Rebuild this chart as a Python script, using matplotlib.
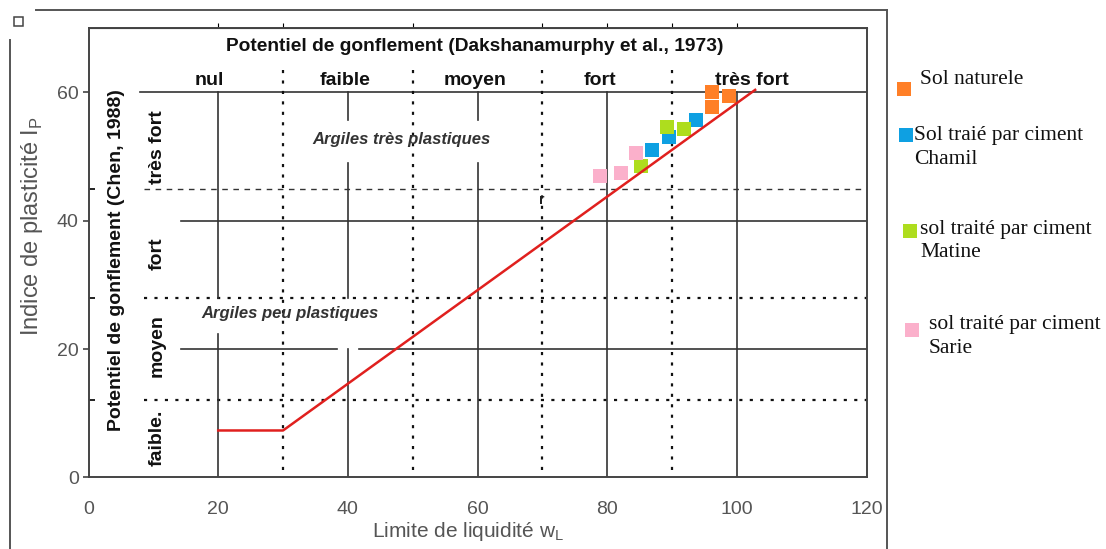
import matplotlib
matplotlib.use("Agg")
import matplotlib.pyplot as plt
from matplotlib.patches import Rectangle
from matplotlib.lines import Line2D

# ---------------- data ----------------
a_line_wl = [20, 30, 102.8]
a_line_ip = [7.3, 7.3, 60.4]

naturel_wl = [96.1, 96.1, 98.8]
naturel_ip = [60.1, 57.7, 59.4]
chamil_wl = [86.9, 89.5, 93.7]
chamil_ip = [51.1, 53.1, 55.75]
matine_wl = [85.2, 89.2, 91.8]
matine_ip = [48.5, 54.6, 54.3]
sarie_wl = [78.8, 82.1, 84.4]
sarie_ip = [46.9, 47.4, 50.6]

x_ticks = [0, 20, 40, 60, 80, 100, 120]
y_ticks = [0, 20, 40, 60]

col_labels = ["nul", "faible", "moyen", "fort", "très fort"]
col_label_x = [18.6, 39.6, 59.6, 78.8, 102.3]
row_labels = ["très fort", "fort", "moyen", "faible."]
row_label_y = [51.5, 34.8, 20.5, 6.1]

legend_labels = ["Sol naturele", "Sol traié par ciment\nChamil",
                 "sol traité par ciment\nMatine", "sol traité par ciment\nSarie"]
colors = ["#FF7F27", "#0EA0E2", "#AEDD1E", "#FBB0CB"]

# ---------------- figure ----------------
W, H = 1106, 549
fig = plt.figure(figsize=(W / 100, H / 100), dpi=100)
SANS = ["Liberation Sans", "DejaVu Sans"]
SERIF = ["Liberation Serif", "DejaVu Serif"]
plt.rcParams["font.family"] = SANS


def fx(x):
    return x / W


def fy(y):
    return 1 - y / H


ax = fig.add_axes([fx(88.5), fy(477.3), fx(866.7) - fx(88.5), fy(28.3) - fy(477.3)])
ax.set_xlim(0, 120)
ax.set_ylim(0, 70)
for s in ax.spines.values():
    s.set_color("#444444")
    s.set_linewidth(1.4)

ax.set_xticks(x_ticks)
ax.set_yticks(y_ticks)
ax.tick_params(axis="x", length=0, pad=17, labelsize=14, labelcolor="#555555")
ax.tick_params(axis="y", length=4, width=1.2, color="#444444", pad=3,
               labelsize=14, labelcolor="#555555")
ax.set_yticks([12, 28, 45], minor=True)
ax.tick_params(axis="y", which="minor", length=4, width=1.4, direction="in", color="#222222")
# top ticks
ax.secondary_xaxis("top").set_xticks([20, 30, 50, 70, 80, 90, 100], labels=[])

ax.set_xlabel("Limite de liquidité w$_\\mathregular{L}$", fontsize=15, color="#555555")
ax.xaxis.set_label_coords(0.488, -0.095)
ax.set_ylabel("Indice de plasticité I$_\\mathregular{P}$", fontsize=17, color="#555555")
ax.yaxis.set_label_coords(-0.056, 0.56)

solid = dict(color="#333333", lw=1.2, zorder=1)
dot = dict(color="#111111", lw=1.6, linestyle=(0, (1.4, 3.3)), zorder=1)

# horizontal solid lines
ax.plot([7.9, 120], [60, 60], **solid)
ax.plot([14.2, 120], [40, 40], **solid)
ax.plot([14.2, 38.3], [20, 20], **solid)
ax.plot([41.7, 120], [20, 20], **solid)
# horizontal dotted / dashed
ax.plot([8.5, 120], [28, 28], **dot)
ax.plot([8.5, 120], [12, 12], **dot)
ax.plot([8.5, 120], [45, 45], color="#333333", lw=1.0, linestyle=(0, (4, 4)), zorder=1)
# vertical solid lines
for x0, segs in [(20, [(0, 22.4), (28, 60)]),
                 (40, [(0, 20), (28, 49), (55.7, 60)]),
                 (60, [(0, 49), (55.7, 60)]),
                 (80, [(0, 60)]),
                 (100, [(0, 60)])]:
    for a, b in segs:
        ax.plot([x0, x0], [a, b], **solid)
# vertical dotted lines
for x0 in [30, 50, 70, 90]:
    ax.plot([x0, x0], [1.2, 63.5], **dot)

# texts inside
ax.text(59.6, 67.1, "Potentiel de gonflement (Dakshanamurphy et al., 1973)",
        ha="center", va="center", fontsize=13.8, fontweight="bold", color="#111111")
for lab, x in zip(col_labels, col_label_x):
    ax.text(x, 61.8, lab, ha="center", va="center", fontsize=14, fontweight="bold", color="#111111")
for lab, y in zip(row_labels, row_label_y):
    ax.text(10.6, y, lab, ha="center", va="center", rotation=90, fontsize=14,
            fontweight="bold", color="#111111")
ax.text(4.3, 33.9, "Potentiel de gonflement (Chen, 1988)", ha="center", va="center",
        rotation=90, fontsize=14, fontweight="bold", color="#111111")
ax.text(48.2, 52.6, "Argiles très plastiques", ha="center", va="center", fontsize=12,
        style="italic", fontweight="bold", color="#333333")
ax.text(31.1, 25.6, "Argiles peu plastiques", ha="center", va="center", fontsize=12,
        style="italic", fontweight="bold", color="#333333")
ax.text(69.9, 43.2, "r", ha="center", va="center", fontsize=10, fontweight="bold", color="#222222")

# A-line
ax.plot(a_line_wl, a_line_ip, color="#E0201E", lw=1.8, zorder=5)

# points
for wl, ip, c in [(naturel_wl, naturel_ip, colors[0]), (chamil_wl, chamil_ip, colors[1]),
                  (matine_wl, matine_ip, colors[2]), (sarie_wl, sarie_ip, colors[3])]:
    ax.scatter(wl, ip, marker="s", s=100, color=c, linewidths=0, zorder=4)

# ---------------- legend (drawn as figure elements) ----------------
leg_sq = [(904, 89), (906, 135), (910, 231), (912, 330)]
leg_txt = [(920, 80), (914, 147.5), (920, 241), (929, 336.5)]
for (sx, sy), (tx, ty), lab, c in zip(leg_sq, leg_txt, legend_labels, colors):
    fig.patches.append(Rectangle((fx(sx - 7), fy(sy + 7)), 14 / W, 14 / H,
                                 transform=fig.transFigure, facecolor=c, edgecolor="none"))
    fig.text(fx(tx), fy(ty), lab, ha="left", va="center", fontsize=15.5,
             family=SERIF, color="#111111", linespacing=1.3)

# ---------------- outer frame ----------------
fr = dict(color="#555555", lw=1.4, transform=fig.transFigure)
fig.lines.append(Line2D([fx(36), fx(887)], [fy(10), fy(10)], **fr))
fig.lines.append(Line2D([fx(887), fx(887)], [fy(10), fy(549)], **fr))
fig.lines.append(Line2D([fx(10), fx(10)], [fy(40), fy(549)], **fr))
fig.patches.append(Rectangle((fx(14), fy(26)), 9 / W, 9 / H, transform=fig.transFigure,
                             facecolor="white", edgecolor="#444444", lw=1.1))

fig.savefig("out.png", dpi=100)
